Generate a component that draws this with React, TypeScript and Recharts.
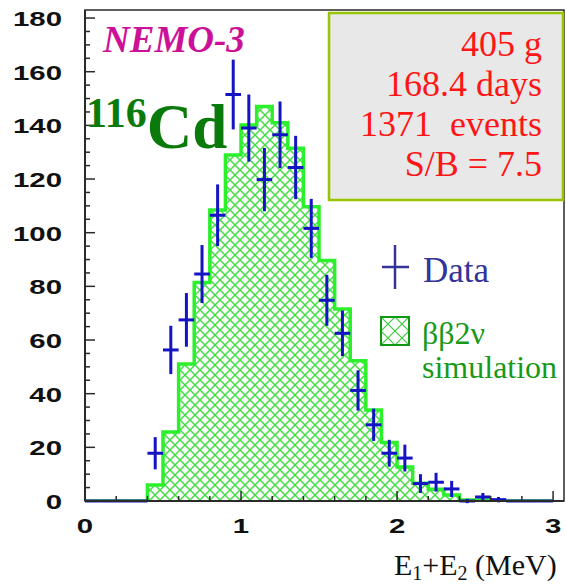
import React from 'react';
import {
  ComposedChart,
  Area,
  Scatter,
  ErrorBar,
  XAxis,
  YAxis,
  ReferenceArea,
  Legend,
} from 'recharts';

// Histogram bin lower edges (MeV)
const binEdges = [
  0, 0.1, 0.2, 0.3, 0.4, 0.5, 0.6, 0.7, 0.8, 0.9, 1.0, 1.1, 1.2, 1.3, 1.4, 1.5,
  1.6, 1.7, 1.8, 1.9, 2.0, 2.1, 2.2, 2.3, 2.4, 2.5, 2.6, 2.7, 2.8, 2.9, 3.0,
];
// Simulated bb2nu spectrum, counts per bin (one value per edge, stepAfter)
const simCounts = [
  0, 0, 0, 0, 6, 25.7, 51.1, 81.4, 108.5, 129, 140.1, 147, 141, 131.5, 109.7,
  89.6, 71.6, 52.3, 33.9, 21.8, 12.7, 6.6, 4.4, 2.2, 0.4, 0.4, 0, 0, 0, 0, 0,
];

// Measured data, bin centres (MeV)
const binCenters = [
  0.05, 0.15, 0.25, 0.35, 0.45, 0.55, 0.65, 0.75, 0.85, 0.95, 1.05, 1.15, 1.25,
  1.35, 1.45, 1.55, 1.65, 1.75, 1.85, 1.95, 2.05, 2.15, 2.25, 2.35, 2.45, 2.55,
  2.65, 2.75, 2.85, 2.95,
];
const dataCounts = [
  0, 0, 0, 0, 17.8, 56.3, 67.5, 84.6, 106.5, 151.5, 139, 119.8, 136.5, 124.3,
  101.6, 74.8, 62.5, 41.2, 28.4, 17.8, 16, 6.5, 7, 4.5, 0, 1.5, 0.5, 0, 0, 0,
];
const dataErrors = [
  0, 0, 0, 0, 6, 9, 10, 10.8, 11.5, 13, 12.5, 11.8, 12.4, 11.8, 11, 9.5, 8.5,
  7.5, 6, 5, 5, 3.5, 3.5, 3, 0.8, 1.5, 1, 0, 0, 0,
];
const halfBinWidth = 0.05;

const xTicks = [0, 0.2, 0.4, 0.6, 0.8, 1, 1.2, 1.4, 1.6, 1.8, 2, 2.2, 2.4, 2.6, 2.8, 3];
const yTicks = [
  0, 5, 10, 15, 20, 25, 30, 35, 40, 45, 50, 55, 60, 65, 70, 75, 80, 85, 90, 95,
  100, 105, 110, 115, 120, 125, 130, 135, 140, 145, 150, 155, 160, 165, 170, 175, 180,
];

const statsLines = ['405 g', '168.4 days', '1371\u00a0 events', 'S/B = 7.5'];

const simRows = binEdges.map((x, i) => ({ x, sim: simCounts[i] }));
const dataRows = binCenters.map((x, i) => ({
  x,
  y: dataCounts[i],
  err: dataErrors[i],
  xerr: halfBinWidth,
}));

const SERIF = "'Liberation Serif', 'Times New Roman', serif";
const SANS = "'Liberation Sans', Arial, Helvetica, sans-serif";
const AXIS = '#2a2a2a';
const DATA_BLUE = '#1414c4';
const SIM_GREEN = '#2cf02c';

const XTick = (props: any) => {
  const { x, y, payload } = props;
  const v = Number(payload.value);
  const major = Math.abs(v - Math.round(v)) < 1e-6;
  return (
    <g>
      <line x1={x} x2={x} y1={y} y2={y - (major ? 10 : 5)} stroke={AXIS} strokeWidth={1.5} />
      {major && (
        <text
          transform={`translate(${x},${y + 32}) scale(1.4,1)`}
          textAnchor="middle"
          fontFamily={SANS}
          fontWeight={700}
          fontSize={21}
          fill="#111"
        >
          {Math.round(v)}
        </text>
      )}
    </g>
  );
};

const YTick = (props: any) => {
  const { x, y, payload } = props;
  const v = Number(payload.value);
  const major = v % 20 === 0;
  return (
    <g>
      <line x1={x} x2={x + (major ? 10 : 5)} y1={y} y2={y} stroke={AXIS} strokeWidth={1.5} />
      {major && (
        <text
          transform={`translate(${x - 23},${y + 8}) scale(1.4,1)`}
          textAnchor="end"
          fontFamily={SANS}
          fontWeight={700}
          fontSize={21}
          fill="#111"
        >
          {v}
        </text>
      )}
    </g>
  );
};

const LegendBox = () => (
  <svg width={190} height={150} style={{ display: 'block', overflow: 'visible' }}>
    <defs>
      <pattern id="hatchLegend" width={14} height={14} patternUnits="userSpaceOnUse" x={6} y={77}>
        <path d="M0,0 L14,14 M14,0 L0,14" stroke="#3cc83c" strokeWidth={1.2} fill="none" />
      </pattern>
    </defs>
    {/* data marker */}
    <line x1={7} x2={34} y1={27} y2={27} stroke="#333399" strokeWidth={2.5} />
    <line x1={20} x2={20} y1={5} y2={49} stroke="#333399" strokeWidth={2.5} />
    <text x={48} y={42} fontFamily={SERIF} fontSize={35} fill="#333399">
      Data
    </text>
    {/* simulation marker */}
    <rect x={6} y={77} width={28} height={28} fill="url(#hatchLegend)" stroke="#109910" strokeWidth={2} />
    <text x={47} y={104} fontFamily={SERIF} fontSize={32} fill="#189a18">
      ββ2ν
    </text>
    <text x={47} y={138} fontFamily={SERIF} fontSize={32} fill="#189a18">
      simulation
    </text>
  </svg>
);

export default function App() {
  return (
    <div style={{ position: 'absolute', left: 0, top: 0, width: 566, height: 586, background: '#fff' }}>
      <ComposedChart
        width={566}
        height={586}
        data={simRows}
        margin={{ top: 10, right: 2, bottom: 0, left: 0 }}
      >
        <defs>
          <pattern id="simHatch" width={10} height={10} patternUnits="userSpaceOnUse">
            <rect width={10} height={10} fill="#ffffff" />
            <path d="M0,0 L10,10 M10,0 L0,10" stroke="#46dc46" strokeWidth={1.5} fill="none" />
          </pattern>
        </defs>
        <XAxis
          dataKey="x"
          type="number"
          domain={[0, 3.07]}
          ticks={xTicks}
          interval={0}
          height={85}
          tickSize={0}
          tickMargin={0}
          tickLine={false}
          tick={<XTick />}
          axisLine={{ stroke: AXIS, strokeWidth: 2 }}
          allowDataOverflow
        />
        <YAxis
          type="number"
          domain={[0, 183]}
          ticks={yTicks}
          interval={0}
          width={85}
          tickSize={0}
          tickMargin={0}
          tickLine={false}
          tick={<YTick />}
          axisLine={{ stroke: AXIS, strokeWidth: 2 }}
          allowDataOverflow
        />
        <Area
          dataKey="sim"
          type="stepAfter"
          fill="url(#simHatch)"
          fillOpacity={1}
          stroke={SIM_GREEN}
          strokeWidth={3.5}
          isAnimationActive={false}
          dot={false}
          activeDot={false}
        />
        <Scatter
          data={dataRows}
          dataKey="y"
          fill={DATA_BLUE}
          shape={() => <g />}
          isAnimationActive={false}
        >
          <ErrorBar dataKey="err" direction="y" width={0} stroke={DATA_BLUE} strokeWidth={3} isAnimationActive={false} />
          <ErrorBar dataKey="xerr" direction="x" width={0} stroke={DATA_BLUE} strokeWidth={3} isAnimationActive={false} />
        </Scatter>
        <ReferenceArea
          x1={0}
          x2={3.07}
          y1={0}
          y2={183}
          fill="none"
          fillOpacity={0}
          stroke={AXIS}
          strokeWidth={1.5}
          ifOverflow="visible"
        />
        <Legend
          layout="horizontal"
          verticalAlign="middle"
          align="center"
          wrapperStyle={{ position: 'absolute', left: 375, top: 240, width: 190, height: 150 }}
          content={() => <LegendBox />}
        />
      </ComposedChart>

      <svg
        width={566}
        height={586}
        style={{ position: 'absolute', left: 0, top: 0, pointerEvents: 'none' }}
      >
        <text x={103} y={52} fontFamily={SERIF} fontWeight={700} fontStyle="italic" fontSize={37} fill="#cc1199">
          NEMO-3
        </text>
        <text fontFamily={SERIF} fontWeight={700} fill="#0a7a0a">
          <tspan x={86} y={127} fontSize={42}>116</tspan>
          <tspan y={148} fontSize={63}>Cd</tspan>
        </text>

        <rect x={329} y={13} width={234} height={187} fill="#e8e8e8" stroke="#99c400" strokeWidth={2.5} />
        {statsLines.map((line, i) => (
          <text
            key={line}
            x={542}
            y={56 + i * 40}
            textAnchor="end"
            fontFamily={SERIF}
            fontSize={36}
            fill="#ff1515"
          >
            {line}
          </text>
        ))}

        <text x={394} y={575} fontFamily={SERIF} fontSize={30} fill="#111">
          E<tspan dy={5} fontSize={20}>1</tspan>
          <tspan dy={-5}>+E</tspan>
          <tspan dy={5} fontSize={20}>2</tspan>
          <tspan dy={-5}> (MeV)</tspan>
        </text>
      </svg>
    </div>
  );
}
